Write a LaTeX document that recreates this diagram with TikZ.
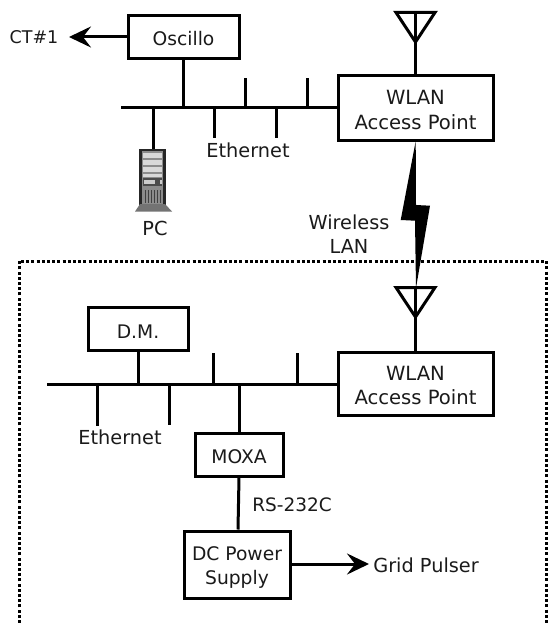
\documentclass[tikz,border=0pt]{standalone}
\usepackage{fontspec}
\setmainfont{DejaVu Sans}
\usetikzlibrary{arrows.meta}
\definecolor{ink}{HTML}{1A1A1A}
\newcommand{\topstrut}[1]{\rule{0pt}{#1pt}}
\tikzset{
  boxnode/.style={draw=black,line width=3pt,fill=white,inner sep=0pt,align=center,text=ink,font=\fontsize{18.7}{24.5}\selectfont},
  apnode/.style={boxnode,font=\fontsize{19.6}{24.5}\selectfont},
  lbl/.style={anchor=base,inner sep=0pt,text=ink,align=center,font=\fontsize{19.3}{24.5}\selectfont},
  wire/.style={line width=3pt,black},
  arrowwire/.style={line width=3pt,black,-{Stealth[length=22pt,width=21pt,inset=8pt]}},
  antenna/.style={line width=3pt,black,line join=miter},
  frameline/.style={line width=3pt,black,dash pattern=on 3pt off 2.2pt},
  bolt/.style={fill=black,draw=none}
}
\begin{document}
\begin{tikzpicture}[x=1pt,y=-1pt]
\useasboundingbox (0,0) rectangle (547,623);
% dotted enclosure
\draw[frameline] (19,623) -- (19,261) -- (546,261) -- (546,623);
% boxes
\node[boxnode,minimum width=111pt,minimum height=43pt] (osc) at (183.5,37) {\topstrut{16.4}Oscillo};
\node[apnode,minimum width=155pt,minimum height=64pt] (ap1) at (415.5,108) {\topstrut{18}WLAN\\Access Point};
\node[boxnode,minimum width=100pt,minimum height=43pt] (dm) at (138,328.5) {\topstrut{20}D.M.};
\node[apnode,minimum width=155pt,minimum height=63pt] (ap2) at (415.5,383.5) {\topstrut{18}WLAN\\Access Point};
\node[boxnode,minimum width=88pt,minimum height=43pt] (moxa) at (239,454.5) {\topstrut{18}MOXA};
\node[boxnode,minimum width=106pt,minimum height=67pt] (dc) at (237,564.5) {\topstrut{20}DC Power\\Supply};
% top bus
\coordinate (b1l) at (121,108);
\coordinate (b1a) at (183,108);
\coordinate (b1b) at (245,108);
\coordinate (b1c) at (307,108);
\coordinate (b1d) at (214,108);
\coordinate (b1e) at (276,108);
\coordinate (b1f) at (153,108);
\coordinate (s1b) at (245,78);
\coordinate (s1c) at (307,78);
\coordinate (s1d) at (214,138);
\coordinate (s1e) at (276,138);
\coordinate (pctop) at (153,151);
\draw[wire] (b1l) -- (ap1.west);
\draw[wire] (b1a) -- (osc.south -| b1a);
\draw[wire] (b1b) -- (s1b);
\draw[wire] (b1c) -- (s1c);
\draw[wire] (b1d) -- (s1d);
\draw[wire] (b1e) -- (s1e);
\draw[wire] (b1f) -- (pctop);
% bottom bus
\coordinate (b2l) at (47,384);
\coordinate (b2a) at (138,384);
\coordinate (b2b) at (213.5,384);
\coordinate (b2c) at (297,384);
\coordinate (b2d) at (97,384);
\coordinate (b2e) at (169,384);
\coordinate (b2f) at (239,384);
\coordinate (s2b) at (213.5,353);
\coordinate (s2c) at (297,353);
\coordinate (s2d) at (97,426);
\coordinate (s2e) at (169,425);
\draw[wire] (b2l) -- (ap2.west |- b2l);
\draw[wire] (b2a) -- (dm.south);
\draw[wire] (b2b) -- (s2b);
\draw[wire] (b2c) -- (s2c);
\draw[wire] (b2d) -- (s2d);
\draw[wire] (b2e) -- (s2e);
\draw[wire] (b2f) -- (moxa.north);
\draw[wire] (moxa.south) -- (dc.north -| 238,0);
% arrows
\coordinate (ctend) at (69,37);
\coordinate (gridend) at (369,564);
\draw[arrowwire] (osc.west) -- (ctend);
\draw[arrowwire] (dc.east |- gridend) -- (gridend);
% antennas
\coordinate (ant1) at (415.5,12);
\coordinate (ant2) at (415.5,287);
\draw[wire] (ant1) -- (ap1.north);
\draw[wire] (ant2) -- (ap2.north);
\draw[antenna] (396,12.5) -- (435,12.5) -- (415.5,42) -- cycle;
\draw[antenna] (396,287.5) -- (435,287.5) -- (415.5,317) -- cycle;
% lightning
\fill[bolt] (415.7,141) -- (400.7,220) -- (415,220.7) -- (416,288) -- (430,205.7) -- (416,205) -- cycle;
% PC tower
\fill[black!85] (139,149) rectangle (166,205);
\fill[black!45] (142,151) rectangle (163,204);
\fill[black!15] (143,153) rectangle (162,158);
\fill[black!15] (143,160) rectangle (162,165);
\fill[black!15] (143,167) rectangle (162,172);
\fill[black!15] (143,174) rectangle (162,177);
\fill[black!70] (143,178) rectangle (162,186);
\fill[black!20] (144,180) rectangle (155,184);
\fill[black!20] (160,180) rectangle (161.5,184);
\foreach \hx in {145,148,151,154,157,160}{\fill[black!75] (\hx,190) rectangle (\hx+1,203);}
\fill[black!55] (140,204) -- (165,204) -- (172,211.5) -- (135,211.5) -- cycle;
% labels
\node[lbl,font=\fontsize{17.5}{24.5}\selectfont] (ctlabel) at (34,44) {CT\#1};
\node[lbl] (eth1) at (248,157) {Ethernet};
\node[lbl] (pclabel) at (155,235) {PC};
\node[lbl] (wless) at (349,229) {Wireless};
\node[lbl] (wlan) at (349,253) {LAN};
\node[lbl] (eth2) at (120,444) {Ethernet};
\node[lbl,font=\fontsize{18.5}{24.5}\selectfont] (rs) at (292,511) {RS-232C};
\node[lbl] (grid) at (426,572) {Grid Pulser};
\end{tikzpicture}
\end{document}
